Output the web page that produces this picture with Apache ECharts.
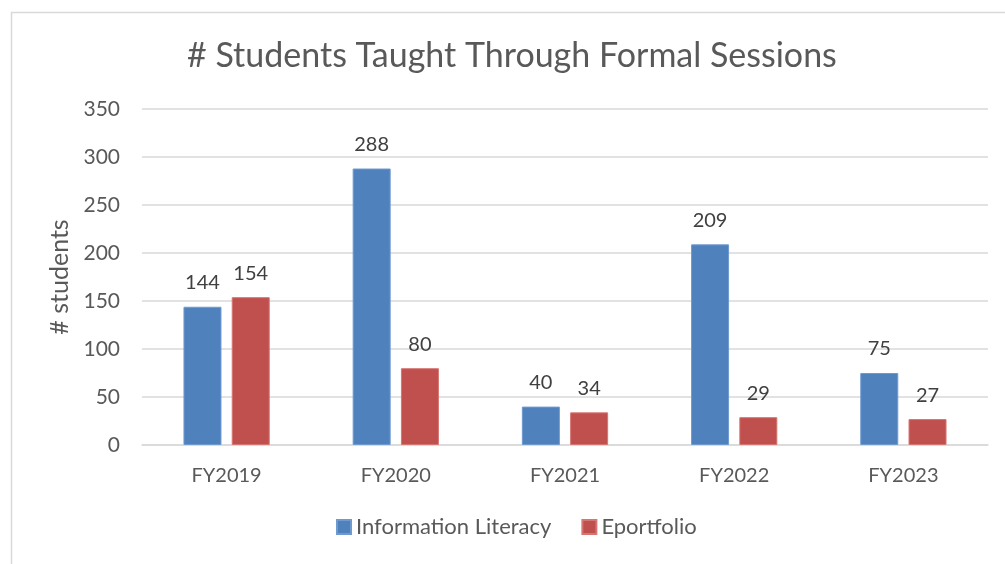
<!DOCTYPE html>
<html><head><meta charset="utf-8">
<script src="https://cdn.jsdelivr.net/npm/echarts@6/dist/echarts.min.js"></script>
<style>html,body{margin:0;padding:0;background:#fff}#c{width:1005px;height:564px}</style>
</head><body><div id="c"></div>
<script>
const categories = ['FY2019','FY2020','FY2021','FY2022','FY2023'];
const infoLiteracy = [144, 288, 40, 209, 75];
const eportfolio = [154, 80, 34, 29, 27];
const seriesNames = ['Information Literacy', 'Eportfolio'];
const FONT = 'Lato, "Open Sans", sans-serif';
const chart = echarts.init(document.getElementById('c'));
const lbl = {show:true, position:'top', distance:14, color:'#404040', fontSize:20, fontFamily:FONT};
chart.setOption({
  animation:false,
  graphic:[{type:'rect', left:9, top:10, shape:{width:1100, height:600}, style:{fill:'none', stroke:'#d9d9d9', lineWidth:1.5}, z:-1}],
  title:{text:'# Students Taught Through Formal Sessions', left:182, top:34, textStyle:{fontFamily:FONT, fontSize:34, fontWeight:'normal', color:'#595959'}},
  legend:{bottom:21, left:331, itemWidth:14, itemHeight:14, itemGap:30, icon:'rect', textStyle:{fontFamily:FONT, fontSize:22, color:'#595959'}, data:seriesNames},
  grid:{left:142, right:17, top:109, bottom:119, containLabel:false},
  xAxis:{type:'category', data:categories, axisLine:{lineStyle:{color:'#d9d9d9', width:1.5}}, axisTick:{show:false}, axisLabel:{color:'#595959', fontFamily:FONT, fontSize:20, margin:21}},
  yAxis:{type:'value', min:0, max:350, interval:50, name:'# students', nameLocation:'middle', nameGap:68, nameRotate:90, nameTextStyle:{color:'#595959', fontFamily:FONT, fontSize:25},
    axisLine:{show:false}, axisTick:{show:false}, splitLine:{lineStyle:{color:'#d9d9d9', width:1.5}}, axisLabel:{color:'#595959', fontFamily:FONT, fontSize:21, margin:22}},
  series:[
    {name:seriesNames[0], type:'bar', data:infoLiteracy, barWidth:38, barGap:'27%', itemStyle:{color:'#4F81BD', borderColor:'#6f9ad0', borderWidth:1}, label:lbl},
    {name:seriesNames[1], type:'bar', data:eportfolio, barWidth:38, itemStyle:{color:'#C0504D', borderColor:'#d67572', borderWidth:1}, label:lbl}
  ]
});
</script></body></html>
